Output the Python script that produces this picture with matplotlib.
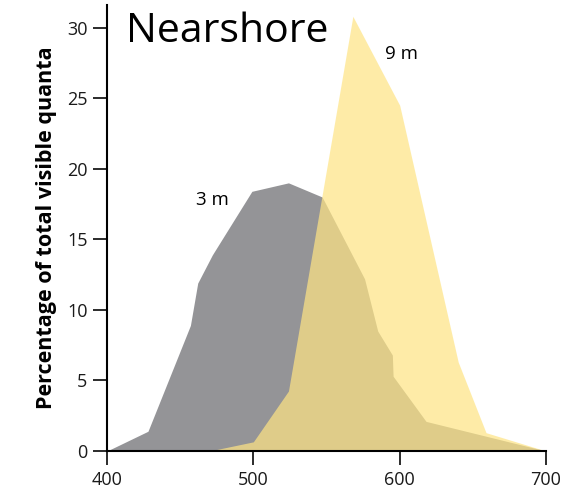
import matplotlib
matplotlib.use("Agg")
import matplotlib.pyplot as plt

# Spectral distribution of visible quanta at two depths (nearshore)
wl_3m = [400, 428, 457, 462, 472, 499, 524, 547, 576, 585, 595, 595.5, 618, 700]
pct_3m = [0, 1.4, 8.9, 11.9, 13.9, 18.4, 19.0, 18.0, 12.2, 8.5, 6.8, 5.3, 2.1, 0]

wl_9m = [470, 500, 524, 568, 600, 640, 659, 700]
pct_9m = [0, 0.65, 4.25, 30.8, 24.5, 6.3, 1.3, 0]

x_ticks = [400, 500, 600, 700]
y_ticks = [0, 5, 10, 15, 20, 25, 30]

plt.rcParams['font.family'] = ['Open Sans', 'DejaVu Sans']

fig = plt.figure(figsize=(5.67, 4.92), dpi=100)
ax = fig.add_axes([0.1887, 0.0833, 0.7743, 0.9065])

ax.fill_between(wl_3m, pct_3m, 0, color='#949497', lw=0, zorder=2)
ax.fill_between(wl_9m, pct_9m, 0, color='#fee484', alpha=0.71, lw=0, zorder=3)

ax.set_xlim(400, 700)
ax.set_ylim(0, 31.6)
ax.set_xticks(x_ticks)
ax.set_yticks(y_ticks)
ax.tick_params(direction='out', length=10, width=1.3, labelsize=13, colors='#1a1a1a')
ax.tick_params(axis='x', pad=4.5)
ax.tick_params(axis='y', pad=4)
for s in ['top', 'right']:
    ax.spines[s].set_visible(False)
for s in ['left', 'bottom']:
    ax.spines[s].set_linewidth(1.5)
    ax.spines[s].set_zorder(5)

ax.set_ylabel('Percentage of total visible quanta', fontsize=15.5, fontweight='bold', labelpad=7)

ax.text(472, 17.8, '3 m', fontsize=13.5, ha='center', va='center')
ax.text(601, 28.1, '9 m', fontsize=13.5, ha='center', va='center')
ax.text(413, 29.7, 'Nearshore', fontsize=29.5, ha='left', va='center')

fig.savefig('out.png', dpi=100)
